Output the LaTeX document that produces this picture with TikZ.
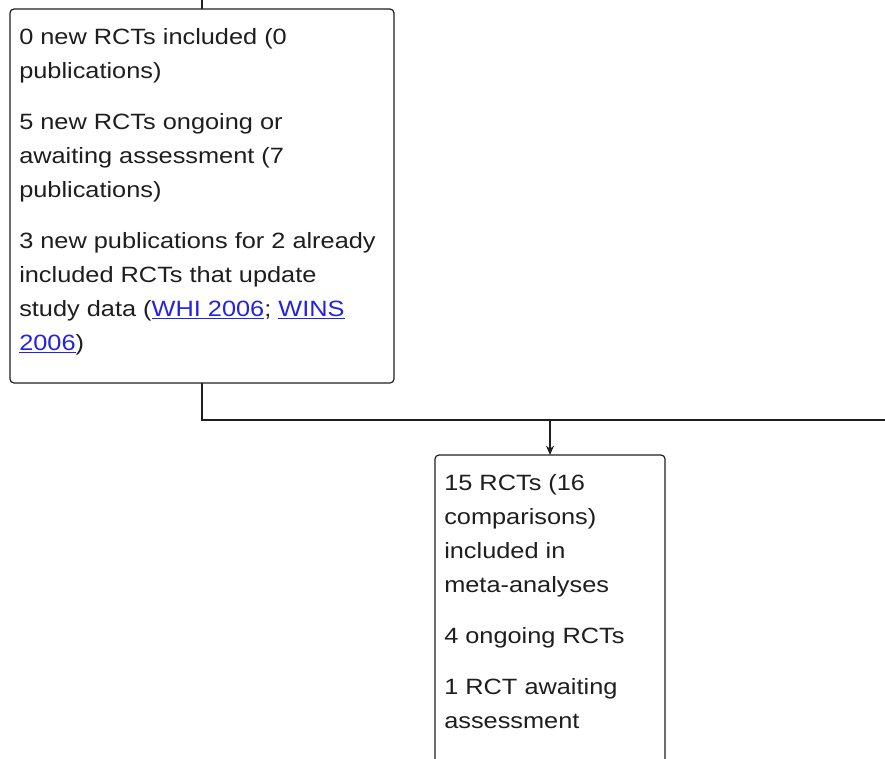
\documentclass[tikz,border=0pt]{standalone}
\usepackage{fontspec}
\setmainfont{Liberation Sans}[FakeStretch=1.145]
\usetikzlibrary{arrows.meta}
\definecolor{ink}{RGB}{30,30,30}
\definecolor{linkblue}{RGB}{35,35,225}
\newcommand{\lnk}[1]{\textcolor{linkblue}{\underline{#1}}}
\newcommand{\firstline}{\rule{0pt}{14pt}}
\begin{document}
\begin{tikzpicture}[x=0.75pt,y=-0.75pt,
  box/.style={draw=ink,line width=0.9pt,rounded corners=3pt,inner sep=0pt,outer sep=0pt,anchor=north west},
  txt/.style={inner sep=0pt,anchor=north west,align=left,text=ink,font=\fontsize{16.6}{25.5}\selectfont},
  conn/.style={draw=ink,line width=0.9pt},
  arr/.style={conn,-{Stealth[length=7pt,width=6pt]}}]
\useasboundingbox (0,0) rectangle (885,758);
\node[box,minimum width=288pt,minimum height=280.5pt] (b1) at (10,9) {};
\node[txt] (t1) at (19,25.3) {\firstline 0 new RCTs included (0\\
publications)\\[12.75pt]
5 new RCTs ongoing or\\
awaiting assessment (7\\
publications)\\[12.75pt]
3 new publications for 2 already\\
included RCTs that update\\
study data (\lnk{WHI 2006}; \lnk{WINS}\\
\lnk{2006})};
\node[box,minimum width=172.5pt,minimum height=255pt] (b2) at (435,455) {};
\node[txt] (t2) at (444,471.3) {\firstline 15 RCTs (16\\
comparisons)\\
included in\\
meta-analyses\\[12.75pt]
4 ongoing RCTs\\[12.75pt]
1 RCT awaiting\\
assessment};
\coordinate (top) at (202,-5);
\coordinate (bend) at (202,420);
\coordinate (j) at (550,420);
\coordinate (right) at (895,420);
\draw[conn] (top) -- (b1.north);
\draw[conn] (b1.south) -- (bend) -- (right);
\draw[arr] (j) -- (b2.north);
\end{tikzpicture}
\end{document}
